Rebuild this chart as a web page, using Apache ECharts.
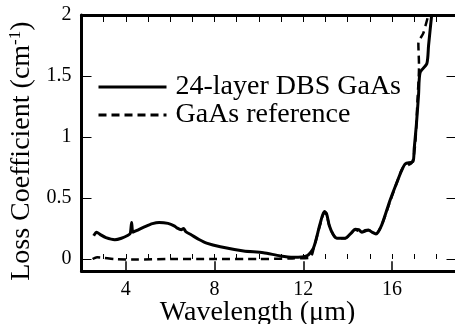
<!DOCTYPE html>
<html><head><meta charset="utf-8">
<script src="https://cdn.jsdelivr.net/npm/echarts@6/dist/echarts.min.js"></script>
<style>html,body{margin:0;padding:0;background:#fff}#c{width:455px;height:324px}</style>
</head><body><div id="c"></div>
<script>
const seriesNames = ['24-layer DBS GaAs', 'GaAs reference'];
const dbsData = [[2.55,0.19],[2.68,0.22],[2.85,0.2],[3.1,0.175],[3.5,0.158],[3.8,0.17],[4.1,0.195],[4.2,0.21],[4.26,0.30],[4.32,0.22],[4.5,0.235],[4.86,0.265],[5.2,0.29],[5.5,0.30],[5.9,0.292],[6.2,0.27],[6.3,0.255],[6.5,0.24],[6.6,0.25],[6.7,0.225],[6.96,0.197],[7.3,0.16],[7.64,0.13],[8.26,0.10],[9.31,0.066],[10.2,0.052],[10.96,0.025],[11.56,0.014],[12.16,0.025],[12.46,0.09],[12.76,0.29],[12.95,0.39],[13.05,0.37],[13.18,0.27],[13.35,0.2],[13.51,0.17],[13.89,0.17],[14.15,0.21],[14.34,0.243],[14.5,0.24],[14.64,0.22],[14.8,0.235],[14.94,0.238],[15.1,0.22],[15.28,0.205],[15.54,0.28],[15.91,0.48],[16.29,0.66],[16.45,0.73],[16.6,0.78],[16.95,0.8],[17.0,0.9],[17.1,1.1],[17.2,1.35],[17.27,1.53],[17.57,1.6],[17.65,1.75],[17.79,2.0]];
const refData = [[2.5,0.0],[2.7,0.015],[3.0,0.01],[3.5,0.0],[4.5,-0.005],[6,0.0],[8,0.0],[10,0.0],[11.5,0.005],[12.3,0.01],[12.46,0.08],[12.76,0.28],[12.95,0.38],[13.05,0.36],[13.18,0.27],[13.35,0.2],[13.51,0.17],[13.89,0.17],[14.34,0.24],[14.64,0.22],[14.94,0.235],[15.28,0.21],[15.54,0.28],[15.91,0.47],[16.29,0.66],[16.5,0.75],[16.9,0.79],[17.05,0.95],[17.15,1.3],[17.22,1.58],[17.19,1.77],[17.41,1.85],[17.64,2.0]];
const xMajorTicks = [4, 8, 12, 16];
const xMinorTicks = [3,4,5,6,7,8,9,10,11,12,13,14,15,16,17,18];
const yTicks = [0, 0.5, 1, 1.5, 2];
const xName = 'Wavelength (\u03bcm)';
const yName = 'Loss Coefficient (cm{sup|-1})';

const FONT = 'Liberation Serif';
const chart = echarts.init(document.getElementById('c'), null, {renderer: 'canvas'});
const axisLine = {show: true, onZero: false, lineStyle: {color: '#000', width: 3}};
chart.setOption({
  backgroundColor: '#fff',
  animation: false,
  textStyle: {fontFamily: FONT, color: '#000'},
  grid: {left: 81.5, top: 15, width: 377, height: 256.2, outerBoundsMode: 'none', containLabel: false},
  legend: {
    left: 97, top: 73, orient: 'vertical', padding: 0, itemGap: 0,
    itemWidth: 68, itemHeight: 14,
    data: seriesNames,
    itemStyle: {opacity: 0},
    lineStyle: {width: 3},
    textStyle: {fontSize: 28, fontFamily: FONT, color: '#000', padding: [0, 0, 0, 4]}
  },
  xAxis: [
    {type: 'value', min: 2, max: 19, position: 'bottom', axisLine,
     splitLine: {show: false},
     axisTick: {show: true, inside: true, length: 10, customValues: xMajorTicks, lineStyle: {color: '#000', width: 1.5}},
     axisLabel: {customValues: xMajorTicks, fontSize: 20, fontFamily: FONT, color: '#000', margin: 9},
     name: xName, nameLocation: 'middle', nameGap: 27, nameMoveOverlap: false,
     nameTextStyle: {fontSize: 28, fontFamily: FONT, color: '#000', padding: [0, 25, 0, 0]}},
    {type: 'value', min: 2, max: 19, position: 'bottom', axisLine: {show: false},
     splitLine: {show: false},
     axisTick: {show: true, inside: true, length: 5, customValues: xMinorTicks, lineStyle: {color: '#000', width: 1}},
     axisLabel: {show: false}},
    {type: 'value', min: 2, max: 19, position: 'top', axisLine,
     splitLine: {show: false},
     axisTick: {show: true, inside: true, length: 7, customValues: xMinorTicks, lineStyle: {color: '#000', width: 1}},
     axisLabel: {show: false}}
  ],
  yAxis: [
    {type: 'value', min: -0.1, max: 2, position: 'left', axisLine,
     splitLine: {show: false},
     axisTick: {show: true, inside: true, length: 10, customValues: yTicks, lineStyle: {color: '#000', width: 1}},
     axisLabel: {customValues: yTicks, fontSize: 20, fontFamily: FONT, color: '#000', margin: 10},
     name: yName, nameLocation: 'middle', nameGap: 41,
     nameTextStyle: {fontSize: 28, fontFamily: FONT, color: '#000', padding: [0, 16, 0, 0],
       rich: {sup: {fontSize: 17, fontFamily: FONT, color: '#000', padding: [0, 0, 12, 0]}}}},
    {type: 'value', min: -0.1, max: 2, position: 'right', axisLine,
     splitLine: {show: false},
     axisTick: {show: true, inside: true, length: 12, customValues: yTicks, lineStyle: {color: '#000', width: 1}},
     axisLabel: {show: false}}
  ],
  series: [
    {name: seriesNames[0], type: 'line', xAxisIndex: 0, yAxisIndex: 0, data: dbsData,
     symbol: 'none', smooth: 0.25, z: 3,
     lineStyle: {color: '#000', width: 3, type: 'solid'}, itemStyle: {color: '#000'}},
    {name: seriesNames[1], type: 'line', xAxisIndex: 0, yAxisIndex: 0, data: refData,
     symbol: 'none', smooth: 0.25, z: 4,
     lineStyle: {color: '#000', width: 2.5, type: [8, 5]}, itemStyle: {color: '#000'}}
  ]
});
</script>
</body></html>
